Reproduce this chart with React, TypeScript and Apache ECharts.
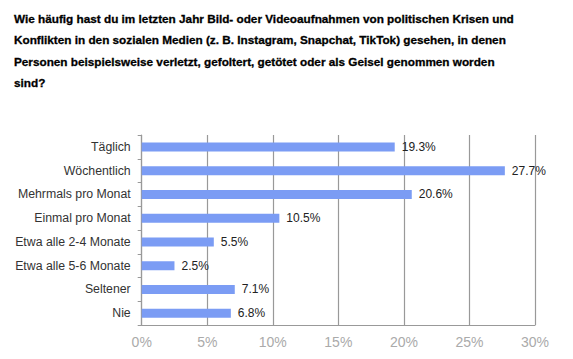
import React, { useEffect, useRef } from "react";
import * as echarts from "echarts";

const titleLines = [
  "Wie häufig hast du im letzten Jahr Bild- oder Videoaufnahmen von politischen Krisen und",
  "Konflikten in den sozialen Medien (z. B. Instagram, Snapchat, TikTok) gesehen, in denen",
  "Personen beispielsweise verletzt, gefoltert, getötet oder als Geisel genommen worden",
  "sind?",
];
const categories = [
  "Täglich",
  "Wöchentlich",
  "Mehrmals pro Monat",
  "Einmal pro Monat",
  "Etwa alle 2-4 Monate",
  "Etwa alle 5-6 Monate",
  "Seltener",
  "Nie",
];
const values = [19.3, 27.7, 20.6, 10.5, 5.5, 2.5, 7.1, 6.8];
const xTicks = { min: 0, max: 30, interval: 5 };

export default function App() {
  const ref = useRef<HTMLDivElement>(null);
  useEffect(() => {
    if (!ref.current) return;
    const chart = echarts.init(ref.current, null, { renderer: "svg" });
    chart.setOption({
      animation: false,
      backgroundColor: "#ffffff",
      title: {
        text: titleLines.join("\n"),
        left: 9,
        top: 3,
        textStyle: {
          fontFamily: "'Liberation Sans', Arial, sans-serif",
          fontWeight: "bold",
          fontSize: 11.75,
          lineHeight: 21.2,
          color: "#000000",
          textBorderColor: "#000000",
          textBorderWidth: 0.3,
        },
      },
      grid: { left: 141.7, right: 38, top: 135, bottom: 34, containLabel: false },
      xAxis: {
        type: "value",
        min: xTicks.min,
        max: xTicks.max,
        interval: xTicks.interval,
        axisLine: { show: true, lineStyle: { color: "#999999", width: 1.2 } },
        axisTick: { show: false },
        splitLine: { show: true, lineStyle: { color: "#999999", width: 1.2 } },
        axisLabel: {
          formatter: "{value}%",
          color: "#aaaaaa",
          fontSize: 14,
          margin: 10,
          fontFamily: "'Liberation Sans', Arial, sans-serif",
        },
      },
      yAxis: {
        type: "category",
        data: categories,
        inverse: true,
        axisLine: { show: true, lineStyle: { color: "#999999", width: 1.2 } },
        axisTick: { show: true, length: 4, lineStyle: { color: "#999999" } },
        axisLabel: {
          color: "#333333",
          fontSize: 12.3,
          margin: 11,
          fontFamily: "'Liberation Sans', Arial, sans-serif",
        },
      },
      series: [
        {
          type: "bar",
          data: values,
          barWidth: 9,
          itemStyle: { color: "#7b9cf4" },
          label: {
            show: true,
            position: "right",
            distance: 7,
            formatter: (p: any) => p.value.toFixed(1) + "%",
            color: "#222222",
            fontSize: 12,
            fontFamily: "'Liberation Sans', Arial, sans-serif",
          },
        },
      ],
    });
    return () => chart.dispose();
  }, []);
  return (
    <div
      ref={ref}
      style={{ position: "fixed", left: 0, top: 0, width: 573, height: 359 }}
    />
  );
}
